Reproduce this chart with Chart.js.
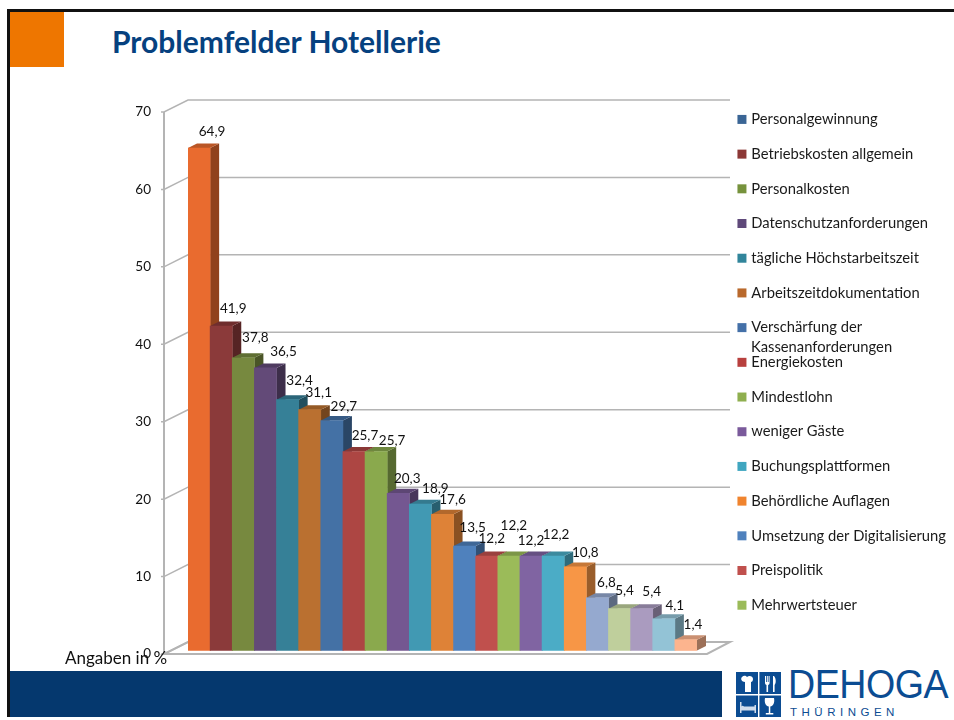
<!DOCTYPE html>
<html lang="de"><head><meta charset="utf-8">
<title>Problemfelder Hotellerie</title>
<script src="https://cdn.jsdelivr.net/npm/chart.js@4"></script>
<style>
html,body{margin:0;padding:0;background:#fff;width:954px;height:720px;overflow:hidden;font-family:Lato,sans-serif}
#chartBox{position:absolute;left:0;top:0;width:954px;height:720px}
.abs{position:absolute}
#topLine{left:7px;top:9px;width:947px;height:3px;background:#111}
#leftLine{left:7px;top:9px;width:3px;height:708px;background:#111}
#square{left:10px;top:12px;width:54px;height:55px;background:#EE7600}
#title{left:112px;top:23px;font:bold 30px Lato,sans-serif;color:#06417F;white-space:nowrap}
#band{left:10px;top:671px;width:712px;height:46px;background:#05386E}
#dehoga{left:788px;top:662px;font:400 40px "Liberation Sans",sans-serif;color:#0B4C92;white-space:nowrap;letter-spacing:-.5px;transform:scaleX(.94);transform-origin:0 0}
#thu{left:790px;top:706px;font:400 11.5px "Liberation Sans",sans-serif;color:#0B4C92;letter-spacing:4.5px;white-space:nowrap}
#icon{left:736px;top:672px}
</style></head><body>
<div class="abs" id="topLine"></div><div class="abs" id="leftLine"></div><div class="abs" id="square"></div>
<div class="abs" id="title">Problemfelder Hotellerie</div>
<div class="abs" id="band"></div>
<svg class="abs" id="icon" width="45" height="45" viewBox="0 0 45 45">
<rect width="45" height="45" fill="#0B4C92"/><path d="M22 0h1.4v45H22zM0 22h45v1.4H0z" fill="#fff"/>
<path d="M6 5c2-2 4-1 5 0 2-2 6-1 6 2 0 2-1 3-2 3v10H9V10C6 10 4 7 6 5z" fill="#fff"/>
<path d="M29 4v7c0 1 1 2 1.5 2V20h1.6v-7c.5 0 1.5-1 1.5-2V4h-1v6h-.8V4h-1v6H30V4zM38 4c2 2 2.400 7 .6 9V20H37V4z" fill="#fff"/>
<path d="M4 30v11h1.500v-2.500h13V41H20V33h-1.500v1.500H8c-1-1-2-1-2.500 0V30z" fill="#cfdcec"/>
<path d="M29 26h9c1 5-1 8-3.700 8.500V41h3v1.500h-7.500V41h3v-6.500C30 34 28 31 29 26z" fill="#fff"/>
</svg>
<div class="abs" id="dehoga">DEHOGA</div>
<div class="abs" id="thu">THÜRINGEN</div>
<div id="chartBox"><canvas id="c" width="954" height="720"></canvas></div>
<script>
const categories = ["Personalgewinnung","Betriebskosten allgemein","Personalkosten","Datenschutzanforderungen","tägliche Höchstarbeitszeit","Arbeitszeitdokumentation","Verschärfung der Kassenanforderungen","Energiekosten","Mindestlohn","weniger Gäste","Buchungsplattformen","Behördliche Auflagen","Umsetzung der Digitalisierung","Preispolitik","Mehrwertsteuer","Kategorie 16","Kategorie 17","Kategorie 18","Kategorie 19","Kategorie 20","Kategorie 21","Kategorie 22","Kategorie 23"];
const values = [64.9,41.9,37.8,36.5,32.4,31.1,29.7,25.7,25.7,20.3,18.9,17.6,13.5,12.2,12.2,12.2,12.2,10.8,6.8,5.4,5.4,4.1,1.4];
const barColors = ["#E96B2F","#8B3A3A","#77893F","#634A78","#368097","#BA7030","#4471A5","#AD4643","#8AA94D","#745791","#4199B3","#DE8237","#4F81BD","#C0504D","#9BBB59","#8064A2","#4BACC6","#F79646","#95A9CF","#BFCF9C","#AA9BBF","#93C3D6","#FCB48E"];
const legendLabels = ["Personalgewinnung","Betriebskosten allgemein","Personalkosten","Datenschutzanforderungen","tägliche Höchstarbeitszeit","Arbeitszeitdokumentation","Verschärfung der","Energiekosten","Mindestlohn","weniger Gäste","Buchungsplattformen","Behördliche Auflagen","Umsetzung der Digitalisierung","Preispolitik","Mehrwertsteuer"];
const legendColors = ["#3A6595","#8C3836","#76923C","#5F497A","#31859B","#B9692C","#4470A8","#B8403E","#8FAF4F","#7A5A9B","#40A6C0","#F0842E","#4F81BD","#C0504D","#9BBB59"];
const legendWrapLine = "Kassenanforderungen";
const yTicks = [0,10,20,30,40,50,60,70];
const axisNote = "Angaben in %";

const labelNudgeX = [13,12,12,18,12,9,12,11,16,9,15,10,8,5,5,0,3,10,9,5,10,11,7];
const labelNudgeY = [-16,-17,-20,-16,-19,-17,-14,-16,-11,-15,-16,-15,-18,-17,-30,-15,-21,-14,-15,-18,-17,-13,-15];
const LABEL_FONT = "13.5px Lato, sans-serif";
const LEGEND_FONT_SIZE = 14.75;

function shade(hex,f){
  const n=parseInt(hex.slice(1),16);
  return "rgb("+[(n>>16)&255,(n>>8)&255,n&255].map(v=>Math.round(v*f)).join(",")+")";
}
const poly=(ctx,pts,fill,stroke)=>{ctx.beginPath();pts.forEach((p,i)=>i?ctx.lineTo(p[0],p[1]):ctx.moveTo(p[0],p[1]));ctx.closePath();
  if(fill){ctx.fillStyle=fill;ctx.fill();} if(stroke){ctx.strokeStyle=stroke;ctx.stroke();}};

const GRID="#B4B4B4", WALL_DX=24, WALL_DY=-12, BAR_DX=9, BAR_DY=-4.5;

const wallPlugin={
  id:"wall3d",
  beforeLayout(chart){
    const lg=chart.legend;
    if(!lg.__wrapped){
      const fit=lg.fit;
      lg.fit=function(){fit.call(this);this.width=257;};
      lg.__wrapped=true;
    }
  },
  afterLayout(chart){
    chart.legend.left=720;
    chart.legend.top=92.1;
  },
  beforeDatasetsDraw(chart){
    const {ctx}=chart, y=chart.scales.y, area=chart.chartArea;
    const axisX=area.left-WALL_DX, wallRight=area.right+33;
    const y0=y.getPixelForValue(0);
    ctx.save();
    ctx.lineWidth=2;
    poly(ctx,[[axisX,y0],[area.right+10,y0],[wallRight,y0+WALL_DY],[area.left,y0+WALL_DY]],"#fff",GRID);
    ctx.lineWidth=1.5;
    ctx.strokeStyle=GRID;
    yTicks.forEach(t=>{
      const py=y.getPixelForValue(t);
      ctx.beginPath();
      ctx.moveTo(axisX-3,py);ctx.lineTo(axisX,py);
      ctx.lineTo(area.left,py+WALL_DY);
      if(t>0) ctx.lineTo(wallRight,py+WALL_DY);
      ctx.stroke();
    });
    ctx.lineWidth=2;
    ctx.beginPath();ctx.moveTo(axisX,y.getPixelForValue(70));ctx.lineTo(axisX,y0);ctx.stroke();
    const meta=chart.getDatasetMeta(0);
    meta.data.forEach((b,i)=>{
      const half=b.width/2,l=b.x-half,r=b.x+half,c=barColors[i];
      poly(ctx,[[r,b.y],[r+BAR_DX,b.y+BAR_DY],[r+BAR_DX,b.base+BAR_DY],[r,b.base]],shade(c,.62));
      poly(ctx,[[l,b.y],[r,b.y],[r+BAR_DX,b.y+BAR_DY],[l+BAR_DX,b.y+BAR_DY]],shade(c,.8));
    });
    ctx.restore();
  },
  afterDraw(chart){
    const {ctx}=chart, meta=chart.getDatasetMeta(0);
    ctx.save();
    ctx.textAlign="center";ctx.textBaseline="middle";ctx.fillStyle="#111";ctx.font=LABEL_FONT;
    meta.data.forEach((b,i)=>{
      ctx.fillText(values[i].toFixed(1).replace(".",","),b.x+labelNudgeX[i],b.y+labelNudgeY[i]);
    });
    ctx.textAlign="left";ctx.font=LEGEND_FONT_SIZE+"px Lato, sans-serif";ctx.fillStyle="#1a1a1a";
    ctx.fillText(legendWrapLine,751,347);
    ctx.font="17px Lato, sans-serif";ctx.fillStyle="#111";
    ctx.fillText(axisNote,65,659);
    ctx.restore();
  }
};

new Chart(document.getElementById("c"),{
  type:"bar",
  data:{labels:categories,datasets:[{label:"Problemfelder",data:values,backgroundColor:barColors,borderWidth:0,barPercentage:1,categoryPercentage:1,yAxisID:"yBars"}]},
  plugins:[wallPlugin],
  options:{
    responsive:false,animation:false,
    layout:{padding:{left:68,top:112,bottom:66,right:0}},
    scales:{
      x:{display:false,offset:true},
      y:{position:"left",min:0,max:70,
        grid:{display:false},border:{display:false},
        ticks:{stepSize:10,padding:29,color:"#111",font:{family:"Lato, sans-serif",size:13.5}},
        afterFit(s){s.width=120;}},
      yBars:{display:false,min:-0.4516,max:69.548}
    },
    plugins:{
      title:{display:false},tooltip:{enabled:false},
      legend:{display:true,position:"right",align:"start",
        labels:{boxWidth:4,boxHeight:4,padding:19.95,color:"#1a1a1a",font:{family:"Lato, sans-serif",size:LEGEND_FONT_SIZE},
          generateLabels:()=>legendLabels.map((t,i)=>({text:t,fillStyle:legendColors[i],strokeStyle:legendColors[i],lineWidth:5,hidden:false,index:i,fontColor:"#1a1a1a"}))
        }
      }
    }
  }
});
</script>
</body></html>
